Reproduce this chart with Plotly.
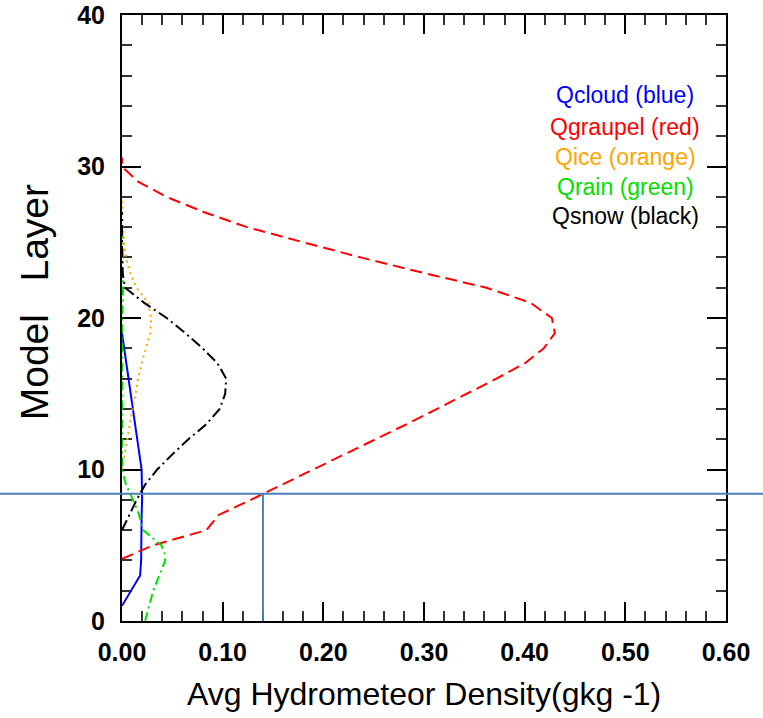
import plotly.graph_objects as go

# ---------------- data ----------------
graupel_layer = [4.1, 5, 6, 7, 8, 9, 10, 11, 12, 13, 14, 15, 16, 17, 18, 19, 20,
                 21, 22, 23, 24, 25, 26, 27, 28, 29, 30, 30.6]
graupel_val = [0.0, 0.031, 0.084, 0.096, 0.128, 0.159, 0.190, 0.222, 0.252, 0.283,
               0.313, 0.343, 0.372, 0.400, 0.419, 0.430, 0.427, 0.406, 0.362, 0.298,
               0.237, 0.180, 0.124, 0.081, 0.044, 0.016, 0.0, 0.0]

cloud_layer = [1, 2, 3, 4, 5, 6, 7, 8, 9, 10, 11, 12, 13, 14, 15, 16, 17, 18, 19]
cloud_val = [0.0, 0.009, 0.018, 0.019, 0.019, 0.0195, 0.0195, 0.020, 0.020, 0.0195,
             0.0173, 0.0152, 0.0130, 0.0108, 0.0087, 0.0065, 0.0043, 0.0022, 0.0]

ice_layer = [10, 11, 12, 13, 14, 15, 16, 17, 18, 19, 20, 21, 22, 23, 24, 25, 26, 27, 28]
ice_val = [0.0, 0.0025, 0.005, 0.0078, 0.0105, 0.0135, 0.016, 0.0195, 0.0235, 0.028,
           0.029, 0.026, 0.0145, 0.008, 0.004, 0.002, 0.001, 0.0005, 0.0]

rain_layer = [0, 1, 2, 3, 4, 4.6, 5, 6, 7, 8, 9, 10, 20, 21, 22, 23, 24, 25, 26]
rain_val = [0.023, 0.027, 0.031, 0.037, 0.043, 0.042, 0.039, 0.021, 0.017, 0.011,
            0.004, 0.0, 0.0, 0.0008, 0.001, 0.0012, 0.001, 0.0005, 0.0]

snow_layer = [6, 7, 8, 9, 10, 11, 12, 13, 14, 15, 16, 17, 18, 19, 20, 21, 22, 23, 24, 27]
snow_val = [0.0, 0.007, 0.0146, 0.023, 0.035, 0.050, 0.066, 0.084, 0.097, 0.1025,
            0.1035, 0.095, 0.080, 0.063, 0.0444, 0.022, 0.003, 0.0005, 0.0, 0.0]

legend_labels = ["Qcloud (blue)", "Qgraupel (red)", "Qice (orange)",
                 "Qrain (green)", "Qsnow (black)"]

marker_x = 0.14      # graupel density marked by the blue guide lines
marker_layer = 8.4   # model layer where graupel reaches marker_x

x_ticks = [0.0, 0.1, 0.2, 0.3, 0.4, 0.5, 0.6]
y_ticks = [0, 10, 20, 30, 40]

# ---------------- figure ----------------
FONT = "Liberation Sans, Arial, Helvetica, sans-serif"
colors = ["#0000ff", "#ff0000", "#ffa500", "#00e000", "#000000"]

fig = go.Figure()
series = [
    (cloud_val, cloud_layer, colors[0], "solid"),
    (graupel_val, graupel_layer, colors[1], "12px,6px"),
    (ice_val, ice_layer, colors[2], "2px,4px"),
    (rain_val, rain_layer, colors[3], "9px,4px,2px,4px"),
    (snow_val, snow_layer, colors[4], "11px,4px,2px,4px"),
]
for (xv, yv, c, d), name in zip(series, legend_labels):
    fig.add_trace(go.Scatter(x=xv, y=yv, mode="lines", name=name,
                             line=dict(color=c, width=2, dash=d)))

# guide lines
fig.add_shape(type="line", xref="paper", yref="y", x0=-0.3, x1=1.2,
              y0=marker_layer, y1=marker_layer,
              line=dict(color="#4a7ebb", width=2))
fig.add_shape(type="line", xref="x", yref="y", x0=marker_x, x1=marker_x,
              y0=0, y1=marker_layer, line=dict(color="#4a7ebb", width=2))

# legend as coloured text
leg_y = [0.868, 0.816, 0.766, 0.716, 0.668]
for lab, c, yy in zip(legend_labels, colors, leg_y):
    fig.add_annotation(text=lab, xref="paper", yref="paper", x=0.833, y=yy,
                       xanchor="center", yanchor="middle", showarrow=False,
                       font=dict(family=FONT, size=23, color=c))

# axis titles
fig.add_annotation(text="Avg Hydrometeor Density(gkg -1)", xref="paper", yref="paper",
                   x=0.5, y=0, yshift=-73, xanchor="center", yanchor="middle",
                   showarrow=False, font=dict(family=FONT, size=32, color="black"))
fig.add_annotation(text="Model   Layer", xref="paper", yref="paper",
                   x=0, y=0.526, xshift=-88, xanchor="center", yanchor="middle",
                   textangle=-90, showarrow=False,
                   font=dict(family=FONT, size=39, color="black"))

axis_common = dict(showgrid=False, zeroline=False, showline=True, linecolor="black",
                   linewidth=2, mirror="ticks", ticks="inside", tickcolor="black",
                   tickwidth=2, ticklen=19, layer="below traces", automargin=False,
                   tickfont=dict(family=FONT, size=25, color="black", weight="bold"))

fig.update_xaxes(range=[0, 0.6], tickvals=x_ticks, tickformat=".2f",
                 minor=dict(dtick=0.02, ticks="inside", ticklen=10, tickwidth=1.5,
                            tickcolor="#333333"),
                 ticklabelstandoff=8, **axis_common)
fig.update_yaxes(range=[0, 40], tickvals=y_ticks,
                 minor=dict(dtick=2, ticks="inside", ticklen=10, tickwidth=1.5,
                            tickcolor="#333333"),
                 ticklabelstandoff=10, **axis_common)

fig.update_layout(width=763, height=718, showlegend=False,
                  paper_bgcolor="white", plot_bgcolor="white",
                  margin=dict(l=122, r=37, t=15, b=97, autoexpand=False),
                  font=dict(family=FONT, color="black"))

fig.write_html("out.html", config={"displayModeBar": False},
               post_script="document.body.style.margin='0px';document.body.style.overflow='hidden';")
